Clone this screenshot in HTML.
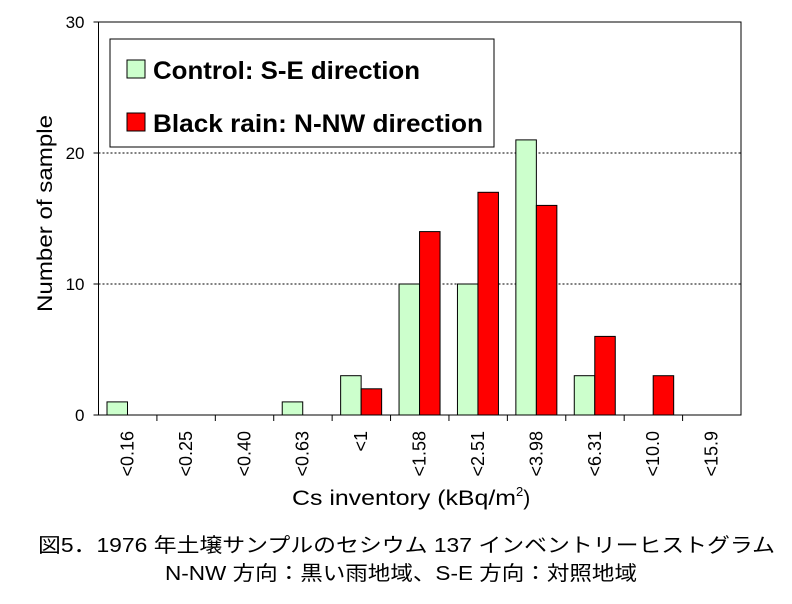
<!DOCTYPE html>
<html><head><meta charset="utf-8"><style>
body{margin:0;background:#fff;}
svg{display:block;font-family:"Liberation Sans","Noto Sans CJK JP",sans-serif;}
</style></head><body>
<svg id="c" width="792" height="604"></svg>
<script>
const categories=["<0.16","<0.25","<0.40","<0.63","<1","<1.58","<2.51","<3.98","<6.31","<10.0","<15.9"];
const controlValues=[1,0,0,1,3,10,10,21,3,0,0];
const blackRainValues=[0,0,0,0,2,14,17,16,6,3,0];
const yTicks=[0,10,20,30];
const NS="http://www.w3.org/2000/svg";
const svg=document.getElementById('c');
const L=98.5,R=741,T=22,B=415;
const cw=(R-L)/categories.length;
const y=v=>B-(B-T)*v/30;
const x=i=>L+i*cw;
function mk(t,a,p){const e=document.createElementNS(NS,t);for(const k in a)e.setAttribute(k,a[k]);(p||svg).appendChild(e);return e;}
yTicks.forEach(v=>{
 if(v>0&&v<30){const g=mk('line',{x1:L,x2:R,y1:y(v),y2:y(v),stroke:'#000','stroke-dasharray':'2,2','stroke-width':1});
 
 }
 const tk=mk('line',{x1:L-5,x2:L,y1:y(v),y2:y(v),stroke:'#000'});
 
 
 const t=mk('text',{x:L-14,y:y(v)+6,'text-anchor':'end','font-size':17});
 t.textContent=v;
 
 
});
const frame=mk('rect',{x:L,y:T,width:R-L,height:B-T,fill:'none',stroke:'#000','stroke-width':1});


const bw=20.5,off=8.5;
categories.forEach((c,i)=>{
 if(controlValues[i]>0){const b=mk('rect',{x:x(i)+off,y:y(controlValues[i]),width:bw,height:B-y(controlValues[i]),fill:'#ccffcc',stroke:'#000','stroke-width':1});
 
 }
 if(blackRainValues[i]>0){const b=mk('rect',{x:x(i)+off+bw,y:y(blackRainValues[i]),width:bw,height:B-y(blackRainValues[i]),fill:'#ff0000',stroke:'#000','stroke-width':1});
 
 }
 if(i>0){const tk=mk('line',{x1:x(i),x2:x(i),y1:B,y2:B+6,stroke:'#000'});
 
 }
 const cx=x(i)+off+bw;
 const t=mk('text',{x:0,y:0,transform:`translate(${cx+6},431) rotate(-90)`,'text-anchor':'end','font-size':18});
 t.textContent=c;
 
 
});
</script>
<svg style="position:absolute;left:0;top:0" width="792" height="604">
<text x="52" y="312" transform="rotate(-90 52 312)" font-size="21" textLength="197" lengthAdjust="spacingAndGlyphs">Number of sample</text>
<text x="292" y="505" font-size="21"><tspan textLength="224" lengthAdjust="spacingAndGlyphs">Cs inventory (kBq/m</tspan><tspan dy="-9" font-size="13">2</tspan><tspan dy="9">)</tspan></text>
<g>
<rect x="110" y="39" width="384" height="108" fill="#fff" stroke="#000"/>
<rect x="127" y="60" width="18" height="18" fill="#ccffcc" stroke="#000"/>
<text x="153" y="79" font-size="25" font-weight="bold" textLength="267" lengthAdjust="spacingAndGlyphs">Control: S-E direction</text>
<rect x="127" y="113" width="18" height="18" fill="#ff0000" stroke="#000"/>
<text x="153" y="132" font-size="25" font-weight="bold" textLength="330" lengthAdjust="spacingAndGlyphs">Black rain: N-NW direction</text>
</g>
<text x="38" y="552" font-size="20" textLength="737" lengthAdjust="spacingAndGlyphs">図5．1976 年土壌サンプルのセシウム 137 インベントリーヒストグラム</text>
<text x="165" y="580" font-size="20" textLength="472" lengthAdjust="spacingAndGlyphs">N-NW 方向：黒い雨地域、S-E 方向：対照地域</text>
</svg>
</body></html>
